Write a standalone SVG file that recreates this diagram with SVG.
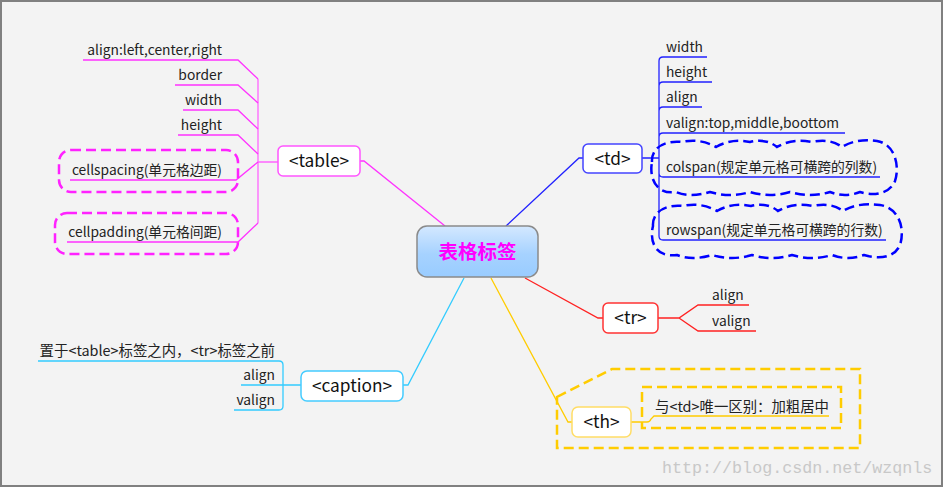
<svg xmlns="http://www.w3.org/2000/svg" width="943" height="487" viewBox="0 0 943 487">
<defs>
<linearGradient id="cg" x1="0" y1="0" x2="0" y2="1">
<stop offset="0" stop-color="#d4e8ff"/>
<stop offset="0.55" stop-color="#a6d2ff"/>
<stop offset="1" stop-color="#99ccff"/>
</linearGradient>
<style>
.leaf{font-family:"Noto Sans CJK SC","Noto Sans",sans-serif;font-size:13.8px;fill:#222}
.cjk{font-size:14.4px}
.nt{font-family:"Noto Sans CJK SC","Noto Sans",sans-serif;font-size:17.3px;fill:#111;text-anchor:middle}
.node{fill:#fff;stroke-width:1.5}
.ln{fill:none;stroke-width:1.3}
.mg{stroke:#ff33ff}
.bl{stroke:#2222ff}
.rd{stroke:#ff2222}
.yl{stroke:#ffcc00}
.cy{stroke:#33ccff}
.dash{fill:none;stroke-width:2.5;stroke-dasharray:10 5}
</style>
</defs>
<rect x="0" y="0" width="943" height="487" fill="#f3f3f3"/>
<rect x="1" y="1" width="941" height="485" fill="none" stroke="#808080" stroke-width="2"/>

<g id="connectors">
<path class="ln mg" d="M360,161 H364 L445,226"/>
<path class="ln bl" d="M506,226 L579,158 H583"/>
<path class="ln rd" d="M525,278 L598,318 H603"/>
<path class="ln yl" d="M491,278 L568,422 H572"/>
<path class="ln cy" d="M464,278 L408,385 H403"/>
<path class="ln" stroke="#ff66ff" d="M258,79 V223 M258,162 H278"/>
<path class="ln mg" d="M83,60 H238 L258,79 M175,85 H238 L258,103 M183,110 H238 L258,129 M178,135 H238 L258,154 M70,180 H236 L258,162 M67,242 H238 L258,223"/>
<path class="ln bl" d="M642,158 H659 M659,158 V61 Q659,57 663,57 H707 M659,158 V86 Q659,82 663,82 H712 M659,158 V111 Q659,107 663,107 H702 M659,158 V137 Q659,133 663,133 H845 M659,158 V173 Q659,177 663,177 H880 M659,158 V236 Q659,240 663,240 H886"/>
<path class="ln rd" d="M658,318 H679 L698,305 H749 M679,318 L698,331 H756"/>
<path class="ln yl" d="M631,422 H647 Q650,422 651,419 L654,416 H829"/>
<path class="ln cy" d="M301,385 H241 M283,385 V365 Q283,361 279,361 H38 M283,385 V406 Q283,410 279,410 H234"/>
</g>

<g id="boundaries">
<rect class="dash" stroke="#ff22ff" x="59" y="150" width="179" height="42" rx="12"/>
<rect class="dash" stroke="#ff22ff" x="55" y="213" width="183" height="41" rx="12"/>
<path class="dash" stroke="#0000ff" stroke-dasharray="9 4" d="M652,162 C651,147 666,140 682,142 Q700,138 716,147 Q732,138 750,142 Q766,138 777,147 Q792,138 812,142 Q830,138 842,147 Q857,138 877,141 C895,144 900,166 895,181 C889,195 872,196 860,192 Q845,198 830,192 Q810,198 790,192 Q770,198 750,192 Q730,198 710,192 Q690,198 676,192 C656,195 649,178 652,162 Z"/>
<path class="dash" stroke="#0000ff" stroke-dasharray="9 4" d="M653,226 C652,211 667,204 683,206 Q701,202 717,211 Q733,202 751,206 Q767,202 778,211 Q793,202 813,206 Q831,202 843,211 Q858,202 880,205 C900,208 905,230 900,245 C894,259 877,259 864,255 Q848,261 832,255 Q812,261 792,255 Q772,261 752,255 Q732,261 712,255 Q692,261 677,255 C656,258 649,242 653,226 Z"/>
<rect class="dash" stroke="#ffcc00" stroke-dasharray="9 5" x="642" y="387" width="199" height="41"/>
<path class="dash" stroke="#ffcc00" stroke-dasharray="9 5" d="M557,397 L612,369 H860 V448 H557 Z"/>
</g>

<g id="n-center">
<rect x="417" y="226" width="121" height="51" rx="10" fill="url(#cg)" stroke="#8a8a8a" stroke-width="1.5"/>
<text x="477.5" y="259" text-anchor="middle" font-family="'Noto Sans CJK SC',sans-serif" font-size="19.5" font-weight="bold" fill="#ff00ff">表格标签</text>
</g>

<g id="n-table">
<rect class="node" stroke="#ff55ff" x="278" y="146" width="82" height="30" rx="5"/>
<text class="nt" x="319" y="167">&lt;table&gt;</text>
</g>
<g id="table-items">
<text class="leaf" text-anchor="end" x="222" y="55">align:left,center,right</text>
<text class="leaf" text-anchor="end" x="222" y="80">border</text>
<text class="leaf" text-anchor="end" x="222" y="105">width</text>
<text class="leaf" text-anchor="end" x="222" y="130">height</text>
<text class="leaf" text-anchor="end" x="222" y="175">cellspacing(单元格边距)</text>
<text class="leaf" text-anchor="end" x="222" y="237">cellpadding(单元格间距)</text>
</g>

<g id="n-td">
<rect class="node" stroke="#4444ff" x="583" y="144" width="59" height="29" rx="5"/>
<text class="nt" x="612.5" y="165">&lt;td&gt;</text>
</g>
<g id="td-items">
<text class="leaf" x="666" y="52">width</text>
<text class="leaf" x="666" y="77">height</text>
<text class="leaf" x="666" y="102">align</text>
<text class="leaf" x="666" y="128">valign:top,middle,boottom</text>
<text class="leaf" x="666" y="172">colspan(规定单元格可横跨的列数)</text>
<text class="leaf" x="666" y="235">rowspan(规定单元格可横跨的行数)</text>
</g>

<g id="n-tr">
<rect class="node" stroke="#ff3333" x="603" y="303" width="55" height="30" rx="5"/>
<text class="nt" x="630.5" y="324">&lt;tr&gt;</text>
</g>
<g id="tr-items">
<text class="leaf" x="712" y="300">align</text>
<text class="leaf" x="712" y="326">valign</text>
</g>

<g id="n-th">
<rect class="node" stroke="#ffdd66" x="572" y="407" width="59" height="30" rx="6"/>
<text class="nt" x="601.5" y="428">&lt;th&gt;</text>
</g>
<g id="th-items">
<text class="leaf cjk" x="655" y="412">与&lt;td&gt;唯一区别：加粗居中</text>
</g>

<g id="n-caption">
<rect class="node" stroke="#44ccff" x="301" y="371" width="102" height="30" rx="6"/>
<text class="nt" x="352" y="392">&lt;caption&gt;</text>
</g>
<g id="caption-items">
<text class="leaf cjk" text-anchor="end" x="275" y="356">置于&lt;table&gt;标签之内，&lt;tr&gt;标签之前</text>
<text class="leaf" text-anchor="end" x="275" y="380">align</text>
<text class="leaf" text-anchor="end" x="275" y="405">valign</text>
</g>

<text x="662" y="473" font-family="'Liberation Mono',monospace" font-size="16.7" fill="#c8c8c8">http://blog.csdn.net/wzqnls</text>
</svg>
